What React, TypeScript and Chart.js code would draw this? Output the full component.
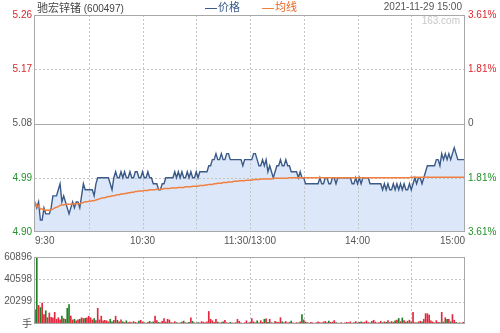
import React, { useEffect, useRef } from "react";
import { Chart, registerables } from "chart.js";
Chart.register(...registerables);

const prevClose = 5.08;
const priceTicks = [4.9, 4.99, 5.08, 5.17, 5.26];
const priceTickLabels = ["4.90", "4.99", "5.08", "5.17", "5.26"];
const pctTickLabels = ["3.61%", "1.81%", "0", "1.81%", "3.61%"];
const timeTickIndex = [0, 60, 120, 180, 240];
const timeTickLabels = ["9:30", "10:30", "11:30/13:00", "14:00", "15:00"];
const halfHourIndex = [30, 60, 90, 120, 150, 180, 210];
const volTicks = [0, 20299, 40598, 60896];
const volTickLabels = ["手", "20299", "40598", "60896"];

const price = [
  4.95, 4.94, 4.95, 4.92, 4.92, 4.94, 4.93, 4.93, 4.93, 4.94,
  4.96, 4.96, 4.96, 4.97, 4.98, 4.95, 4.96, 4.95, 4.94, 4.93,
  4.94, 4.95, 4.94, 4.95, 4.95, 4.94, 4.96, 4.98, 4.97, 4.97,
  4.97, 4.97, 4.97, 4.96, 4.98, 4.99, 4.99, 4.99, 4.99, 4.99,
  4.99, 4.99, 4.98, 4.97, 4.99, 5.0, 4.99, 4.99, 5.0, 4.99,
  5.0, 4.99, 4.99, 5.0, 4.99, 4.99, 5.0, 5.0, 4.99, 4.99,
  5.0, 4.99, 4.99, 5.0, 4.99, 4.99, 4.98, 4.98, 4.98, 4.97,
  4.97, 4.98, 4.98, 4.99, 4.99, 4.99, 4.99, 4.99, 5.0, 4.99,
  5.0, 4.99, 5.0, 4.99, 4.99, 5.0, 4.99, 5.0, 4.99, 4.99,
  5.0, 4.99, 5.0, 5.0, 5.0, 5.0, 5.0, 5.01, 5.01, 5.02,
  5.02, 5.03, 5.02, 5.02, 5.03, 5.02, 5.02, 5.03, 5.03, 5.02,
  5.02, 5.02, 5.02, 5.02, 5.02, 5.02, 5.01, 5.02, 5.02, 5.02,
  5.02, 5.02, 5.03, 5.03, 5.02, 5.01, 5.01, 5.02, 5.01, 5.02,
  5.0, 5.01, 5.0, 4.99, 5.0, 5.01, 5.01, 5.02, 5.01, 5.01,
  5.02, 5.01, 5.01, 5.0, 5.0, 5.0, 5.0, 4.99, 5.0, 4.99,
  4.99, 4.98, 4.98, 4.98, 4.98, 4.98, 4.98, 4.98, 4.98, 4.99,
  4.98, 4.98, 4.99, 4.99, 4.98, 4.98, 4.99, 4.99, 4.98, 4.99,
  4.99, 4.99, 4.99, 4.99, 4.99, 4.99, 4.99, 4.98, 4.98, 4.99,
  4.98, 4.99, 4.98, 4.99, 4.99, 4.99, 4.99, 4.98, 4.98, 4.98,
  4.98, 4.98, 4.98, 4.98, 4.97, 4.98, 4.97, 4.98, 4.97, 4.97,
  4.98, 4.97, 4.98, 4.97, 4.98, 4.97, 4.98, 4.97, 4.97, 4.98,
  4.97, 4.98, 4.99, 4.98, 4.99, 4.99, 4.98, 4.99, 5.0, 5.01,
  5.01, 5.01, 5.01, 5.01, 5.02, 5.02, 5.01, 5.03, 5.02, 5.03,
  5.02, 5.03, 5.02, 5.03, 5.04, 5.03, 5.02, 5.02, 5.02, 5.02,
  5.02,
];

const avgPrice = [
  4.95, 4.942, 4.944, 4.938, 4.938, 4.937, 4.936, 4.936, 4.936, 4.937,
  4.938, 4.94, 4.941, 4.942, 4.944, 4.945, 4.945, 4.946, 4.946, 4.946,
  4.946, 4.946, 4.947, 4.947, 4.947, 4.947, 4.948, 4.949, 4.95, 4.95,
  4.951, 4.951, 4.952, 4.952, 4.953, 4.954, 4.955, 4.956, 4.957, 4.957,
  4.958, 4.959, 4.959, 4.96, 4.96, 4.961, 4.962, 4.962, 4.963, 4.963,
  4.964, 4.964, 4.965, 4.965, 4.966, 4.966, 4.967, 4.967, 4.968, 4.968,
  4.968, 4.969, 4.969, 4.969, 4.97, 4.97, 4.97, 4.97, 4.971, 4.971,
  4.971, 4.971, 4.972, 4.972, 4.972, 4.972, 4.973, 4.973, 4.973, 4.973,
  4.974, 4.974, 4.974, 4.974, 4.975, 4.975, 4.975, 4.975, 4.976, 4.976,
  4.976, 4.976, 4.977, 4.977, 4.977, 4.978, 4.978, 4.979, 4.979, 4.979,
  4.98, 4.98, 4.981, 4.981, 4.981, 4.982, 4.982, 4.982, 4.983, 4.983,
  4.983, 4.984, 4.984, 4.984, 4.985, 4.985, 4.985, 4.985, 4.986, 4.986,
  4.986, 4.986, 4.987, 4.987, 4.987, 4.987, 4.988, 4.988, 4.988, 4.988,
  4.988, 4.988, 4.988, 4.989, 4.989, 4.989, 4.989, 4.989, 4.989, 4.989,
  4.989, 4.989, 4.99, 4.99, 4.99, 4.99, 4.99, 4.99, 4.99, 4.99,
  4.99, 4.99, 4.99, 4.99, 4.99, 4.99, 4.99, 4.99, 4.99, 4.99,
  4.99, 4.99, 4.99, 4.99, 4.99, 4.99, 4.99, 4.99, 4.99, 4.99,
  4.99, 4.99, 4.99, 4.99, 4.99, 4.99, 4.99, 4.99, 4.99, 4.99,
  4.99, 4.99, 4.99, 4.99, 4.99, 4.99, 4.99, 4.99, 4.99, 4.99,
  4.99, 4.99, 4.99, 4.99, 4.99, 4.99, 4.99, 4.99, 4.99, 4.99,
  4.99, 4.99, 4.99, 4.99, 4.99, 4.99, 4.99, 4.99, 4.99, 4.99,
  4.991, 4.991, 4.991, 4.991, 4.991, 4.991, 4.991, 4.991, 4.991, 4.991,
  4.991, 4.991, 4.991, 4.991, 4.991, 4.991, 4.991, 4.991, 4.991, 4.991,
  4.991, 4.991, 4.991, 4.991, 4.991, 4.991, 4.991, 4.991, 4.991, 4.991,
  4.991,
];

const volume = [
  12900, 60896, 17000, 15000, 19000, 8600, 12000, 5700, 10000, 6000,
  5700, 10600, 4300, 5700, 3700, 7100, 4900, 4300, 14300, 17700,
  7100, 3700, 4300, 2900, 3700, 4300, 5700, 4900, 5100, 5700,
  7100, 5700, 3700, 4900, 3000, 14300, 3700, 7100, 2900, 3400,
  2900, 2000, 4300, 2000, 3400, 7100, 3400, 2000, 3700, 2000,
  1400, 2900, 1400, 1800, 1200, 2200, 1500, 1000, 2600, 3400,
  1800, 1200, 900, 1600, 2400, 1300, 2000, 7100, 3000, 1500,
  1200, 2500, 5000, 1800, 4300, 3600, 1400, 1000, 2200, 1300,
  900, 1100, 1700, 2600, 1200, 1000, 1500, 5700, 2300, 1100,
  800, 1300, 1000, 2200, 1600, 1200, 2000, 11400, 4300, 2900,
  1500, 4300, 1800, 1000, 1400, 2000, 3400, 1200, 900, 1500,
  1100, 800, 1300, 4200, 2500, 1000, 700, 1200, 2900, 1000,
  1500, 4900, 2000, 1200, 2800, 1000, 3000, 1500, 4300, 4600,
  1600, 4300, 1200, 900, 2500, 1800, 1400, 5700, 2000, 1200,
  2200, 1000, 1600, 2700, 1100, 800, 1300, 1000, 1900, 8600,
  3700, 1800, 1300, 900, 1500, 1100, 700, 1200, 2000, 1400,
  1000, 1800, 2400, 1200, 2600, 1500, 1700, 3100, 1200, 900,
  800, 1300, 700, 1000, 1500, 1200, 2000, 900, 1400, 2200,
  1100, 1500, 2000, 1200, 1600, 2800, 1300, 1100, 2400, 3400,
  1800, 1000, 1400, 2500, 1200, 2000, 1500, 3000, 1300, 2300,
  1600, 2800, 3600, 5000, 2200, 5500, 3200, 1800, 2600, 3500,
  1800, 10600, 1400, 1100, 1900, 2600, 2000, 4300, 9400, 9400,
  8000, 2800, 1900, 1200, 3100, 1600, 1400, 10600, 1800, 5700,
  4300, 4300, 2000, 8600, 3400, 1500, 900, 1200, 700, 1600,
  4300,
];

const RED = "#d9262e";
const GREEN = "#23912a";
const NEUTRAL = "#555555";
const FONT = "'Liberation Sans', 'Noto Sans CJK SC', sans-serif";

function tickColor(v: number) {
  if (Math.abs(v - prevClose) < 1e-6) return NEUTRAL;
  return v > prevClose ? RED : GREEN;
}

function makeGridPlugin(hTicks: number[], solidValues: number[]) {
  return {
    id: "customGrid",
    beforeDatasetsDraw(chart: any) {
      const { ctx, chartArea } = chart;
      const { left, right, top, bottom } = chartArea;
      const xs = chart.scales.x;
      const ys = chart.scales.y;
      ctx.save();
      ctx.lineWidth = 1;
      ctx.strokeStyle = "#c4c4c4";
      ctx.setLineDash([2, 2]);
      ctx.beginPath();
      for (const i of halfHourIndex) {
        const x = Math.round(xs.getPixelForValue(i)) + 0.5;
        ctx.moveTo(x, top);
        ctx.lineTo(x, bottom);
      }
      for (const v of hTicks) {
        if (solidValues.some((s) => Math.abs(s - v) < 1e-6)) continue;
        const y = Math.round(ys.getPixelForValue(v)) + 0.5;
        if (y <= top + 1 || y >= bottom - 1) continue;
        ctx.moveTo(left, y);
        ctx.lineTo(right, y);
      }
      ctx.stroke();
      ctx.setLineDash([]);
      ctx.strokeStyle = "#a8a8a8";
      ctx.beginPath();
      for (const v of solidValues) {
        const y = Math.round(ys.getPixelForValue(v)) + 0.5;
        ctx.moveTo(left, y);
        ctx.lineTo(right, y);
      }
      ctx.stroke();
      ctx.restore();
    },
    afterDatasetsDraw(chart: any) {
      const { ctx, chartArea } = chart;
      const { left, right, top, bottom } = chartArea;
      ctx.save();
      ctx.lineWidth = 1;
      ctx.strokeStyle = "#a8a8a8";
      ctx.strokeRect(Math.round(left) - 0.5, Math.round(top) + 0.5, Math.round(right - left), Math.round(bottom - top) - 1);
      ctx.restore();
    },
  };
}

export default function App() {
  const priceRef = useRef<HTMLCanvasElement>(null);
  const volRef = useRef<HTMLCanvasElement>(null);

  useEffect(() => {
    const tickFont = { family: FONT, size: 10 };
    const priceChart = new Chart(priceRef.current!, {
      type: "line",
      data: {
        datasets: [
          {
            label: "均线",
            data: avgPrice.map((p, i) => ({ x: i, y: p })),
            borderColor: "#f08040",
            borderWidth: 1.5,
            pointRadius: 0,
            fill: false,
            tension: 0,
          },
          {
            label: "价格",
            data: price.map((p, i) => ({ x: i, y: p })),
            borderColor: "#3b5a88",
            borderWidth: 1.4,
            pointRadius: 0,
            fill: "start",
            backgroundColor: "#dce8f9",
            tension: 0,
          },
        ],
      },
      options: {
        responsive: false,
        maintainAspectRatio: false,
        animation: false,
        layout: { padding: { top: 15, left: 0, right: 0, bottom: 0 } },
        plugins: {
          legend: { display: false },
          tooltip: { enabled: false },
          filler: { drawTime: "beforeDatasetsDraw" },
        } as any,
        scales: {
          x: {
            type: "linear",
            min: 0,
            max: 240,
            offset: false,
            afterBuildTicks: (s: any) => {
              s.ticks = timeTickIndex.map((v) => ({ value: v }));
            },
            afterFit: (s: any) => {
              s.height = 16;
            },
            grid: { display: false, drawTicks: false },
            border: { display: false },
            ticks: {
              align: "inner",
              autoSkip: false,
              maxRotation: 0,
              padding: 3,
              color: NEUTRAL,
              font: tickFont,
              callback: (_v: any, i: number) => timeTickLabels[i],
            },
          },
          y: {
            type: "linear",
            position: "left",
            min: 4.9,
            max: 5.26,
            afterBuildTicks: (s: any) => {
              s.ticks = priceTicks.map((v) => ({ value: v }));
            },
            afterFit: (s: any) => {
              s.width = 35;
            },
            grid: { display: false, drawTicks: false },
            border: { display: false },
            ticks: {
              padding: 3,
              font: tickFont,
              color: (c: any) => tickColor(c.tick.value),
              callback: (_v: any, i: number) => priceTickLabels[i],
            },
          },
          y1: {
            type: "linear",
            position: "right",
            min: 4.9,
            max: 5.26,
            afterBuildTicks: (s: any) => {
              s.ticks = priceTicks.map((v) => ({ value: v }));
            },
            afterFit: (s: any) => {
              s.width = 35;
            },
            grid: { display: false, drawTicks: false },
            border: { display: false },
            ticks: {
              padding: 3,
              font: tickFont,
              color: (c: any) => tickColor(c.tick.value),
              callback: (_v: any, i: number) => pctTickLabels[i],
            },
          },
        },
      } as any,
      plugins: [makeGridPlugin(priceTicks, [prevClose])],
    });

    const barColors = volume.map((_v, i) => {
      const prev = i === 0 ? prevClose : price[i - 1];
      return price[i] >= prev ? "#e2283f" : "#1a8222";
    });

    const volChart = new Chart(volRef.current!, {
      type: "bar",
      data: {
        datasets: [
          {
            label: "成交量",
            data: volume.map((v, i) => ({ x: i, y: v })),
            backgroundColor: barColors,
            barThickness: 1,
          },
        ],
      },
      options: {
        responsive: false,
        maintainAspectRatio: false,
        animation: false,
        layout: { padding: { top: 6, left: 0, right: 35, bottom: 8 } },
        plugins: { legend: { display: false }, tooltip: { enabled: false } },
        scales: {
          x: {
            type: "linear",
            min: 0,
            max: 240,
            offset: false,
            display: false,
            grid: { offset: false },
            afterBuildTicks: (s: any) => {
              s.ticks = timeTickIndex.map((v) => ({ value: v }));
            },
          },
          y: {
            type: "linear",
            position: "left",
            min: 0,
            max: 60896,
            afterBuildTicks: (s: any) => {
              s.ticks = volTicks.map((v) => ({ value: v }));
            },
            afterFit: (s: any) => {
              s.width = 35;
            },
            grid: { display: false, drawTicks: false },
            border: { display: false },
            ticks: {
              padding: 3,
              font: tickFont,
              color: NEUTRAL,
              callback: (_v: any, i: number) => volTickLabels[i],
            },
          },
        },
      } as any,
      plugins: [makeGridPlugin(volTicks, [])],
    });

    return () => {
      priceChart.destroy();
      volChart.destroy();
    };
  }, []);

  const textBase: React.CSSProperties = {
    position: "absolute",
    fontFamily: FONT,
    lineHeight: "12px",
    whiteSpace: "nowrap",
  };

  return (
    <div style={{ position: "absolute", left: 0, top: 0, width: 500, height: 333, background: "#fff", overflow: "hidden" }}>
      <canvas ref={priceRef} width={500} height={248} style={{ position: "absolute", left: 0, top: 0 }} />
      <canvas ref={volRef} width={500} height={85} style={{ position: "absolute", left: 0, top: 248 }} />
      <div style={{ ...textBase, left: 37, top: 1, color: "#444" }}>
        <span style={{ fontSize: 11 }}>驰宏锌锗</span>
        <span style={{ fontSize: 10 }}> (600497)</span>
      </div>
      <div style={{ ...textBase, left: 205, top: 1, color: "#3b5a88", fontSize: 11 }}>
        <span style={{ display: "inline-block", width: 12, height: 0, borderTop: "1.5px solid #3b5a88", verticalAlign: "middle", marginRight: 1 }} />
        价格
      </div>
      <div style={{ ...textBase, left: 262, top: 1, color: "#e8641e", fontSize: 11 }}>
        <span style={{ display: "inline-block", width: 12, height: 0, borderTop: "1.5px solid #f08040", verticalAlign: "middle", marginRight: 1 }} />
        均线
      </div>
      <div style={{ ...textBase, right: 38, top: 1, color: "#555", fontSize: 10 }}>2021-11-29 15:00</div>
      <div style={{ ...textBase, right: 40, top: 15, color: "#c8c8c8", fontSize: 10 }}>163.com</div>
    </div>
  );
}
